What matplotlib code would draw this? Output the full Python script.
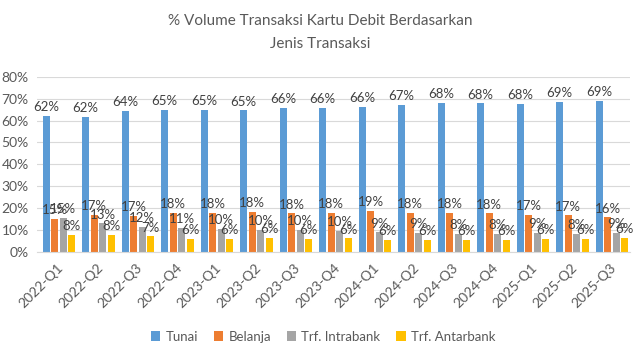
import numpy as np
import matplotlib.pyplot as plt

plt.rcParams['font.family'] = ['Lato', 'DejaVu Sans']

quarters = ['2022-Q1', '2022-Q2', '2022-Q3', '2022-Q4', '2023-Q1', '2023-Q2',
            '2023-Q3', '2023-Q4', '2024-Q1', '2024-Q2', '2024-Q3', '2024-Q4',
            '2025-Q1', '2025-Q2', '2025-Q3']
tunai = [62.0, 61.6, 64.3, 64.8, 64.8, 64.6, 65.6, 65.9, 66.2, 67.1, 67.9, 67.8, 67.7, 68.6, 68.8]
belanja = [15.0, 16.8, 16.6, 17.8, 17.9, 18.2, 17.6, 17.7, 18.6, 17.8, 18.0, 17.6, 16.9, 16.7, 15.8]
intrabank = [15.4, 13.1, 11.6, 11.0, 10.5, 10.1, 10.0, 9.6, 8.9, 8.8, 8.2, 8.2, 8.6, 8.3, 8.6]
antarbank = [7.7, 7.9, 7.1, 6.1, 6.1, 6.4, 6.1, 6.2, 5.6, 5.6, 5.6, 5.5, 6.0, 5.9, 6.3]

series = [('Tunai', tunai, '#5B9BD5'),
          ('Belanja', belanja, '#ED7D31'),
          ('Trf. Intrabank', intrabank, '#A5A5A5'),
          ('Trf. Antarbank', antarbank, '#FFC000')]

fig = plt.figure(figsize=(6.4, 3.6), dpi=100)
ax = fig.add_axes([0.058, 0.30, 0.926, 0.487])

x = np.arange(len(quarters))
step = 0.215
width = 0.175
for i, (name, vals, color) in enumerate(series):
    pos = x + (i - 1.5) * step + 0.05
    bars = ax.bar(pos, vals, width=width, color=color, label=name, zorder=2)
    ax.bar_label(bars, labels=[f'{v:.0f}%' for v in vals], padding=2,
                 fontsize=9.5, color='#404040')

ax.set_ylim(0, 80)
ax.set_xlim(-0.5, len(quarters) - 0.5)
ax.set_yticks(np.arange(0, 81, 10))
ax.set_yticklabels([f'{t}%' for t in range(0, 81, 10)])
ax.set_xticks(x)
ax.set_xticklabels(quarters, rotation=45, ha='right', rotation_mode='anchor')
ax.tick_params(axis='both', length=0, labelsize=10, colors='#595959')
ax.tick_params(axis='x', pad=7)
ax.tick_params(axis='y', pad=6)
ax.grid(axis='y', color='#D9D9D9', linewidth=0.8, zorder=0)
for s in ['top', 'right', 'left']:
    ax.spines[s].set_visible(False)
ax.spines['bottom'].set_color('#D9D9D9')

fig.suptitle('% Volume Transaksi Kartu Debit Berdasarkan\nJenis Transaksi',
             y=0.96, fontsize=11, color='#595959', linespacing=1.75)

fig.legend(loc='lower center', bbox_to_anchor=(0.505, 0.015), ncol=4, frameon=False,
           fontsize=9.5, handlelength=0.7, handleheight=0.7, handletextpad=0.4,
           columnspacing=1.2, labelcolor='#595959')

fig.savefig('out.png', dpi=100)
